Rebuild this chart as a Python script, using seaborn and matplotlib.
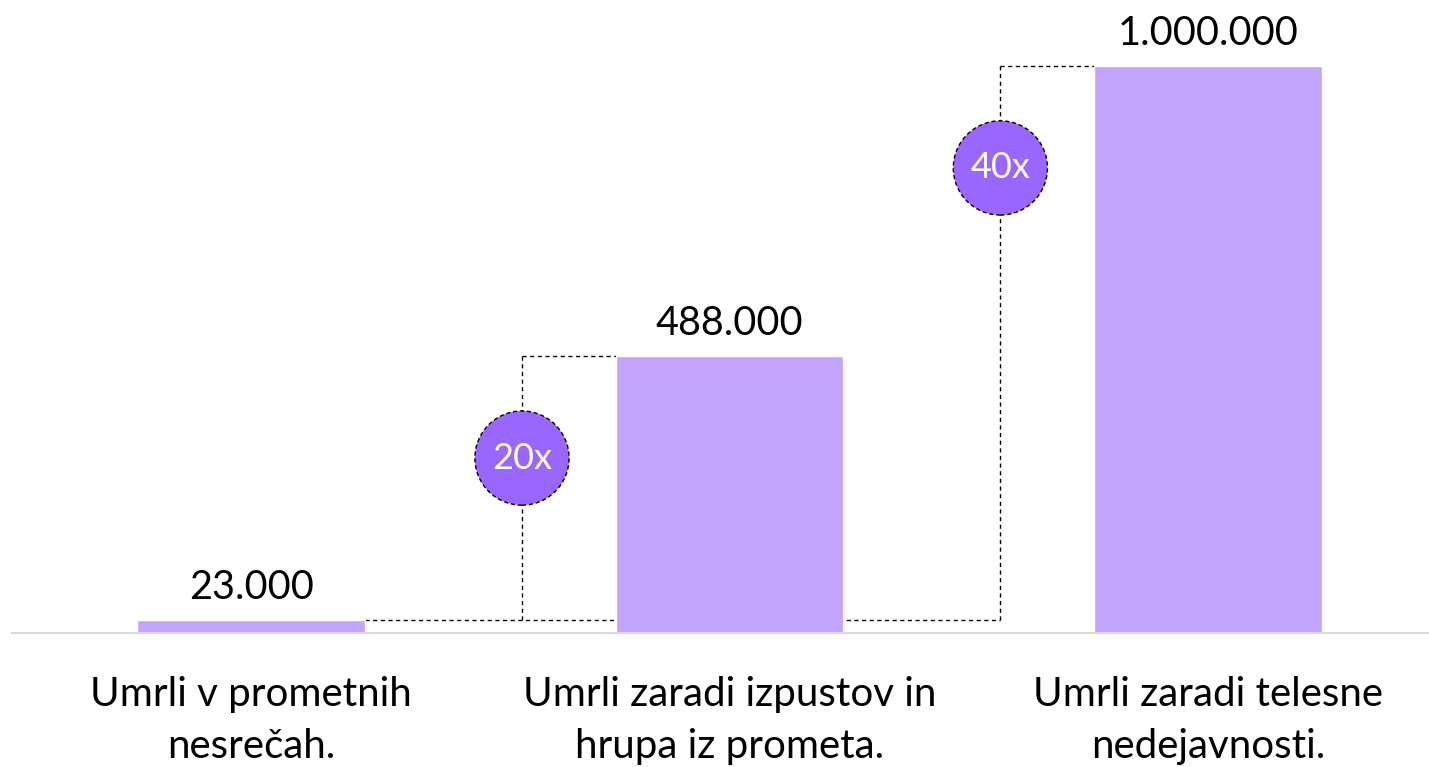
import matplotlib
matplotlib.use('Agg')
import matplotlib.pyplot as plt
import seaborn as sns
import pandas as pd

categories = ['Umrli v prometnih\nnesrečah.', 'Umrli zaradi izpustov in\nhrupa iz prometa.', 'Umrli zaradi telesne\nnedejavnosti.']
values = [23000, 488000, 1000000]
value_labels = ['23.000', '488.000', '1.000.000']
multipliers = ['20x', '40x']

BAR_COLOR = '#C3A5FF'
BUBBLE_COLOR = '#9966FF'
BAR_WIDTH = 0.476
LINK_OFFSET = 0.434          # connector distance left of the target bar centre
BUBBLE_POS = [0.614, 0.816]  # bubble height as a share of the connector span

sns.set_style('white')
plt.rcParams['font.family'] = ['Lato', 'DejaVu Sans']

df = pd.DataFrame({'category': categories, 'value': values})

fig = plt.figure(figsize=(14.29, 7.67), dpi=100)
ax = fig.add_axes([12 / 1429, 134 / 767, 1417 / 1429, 633 / 767])
sns.barplot(data=df, x='category', y='value', color=BAR_COLOR, width=BAR_WIDTH,
            saturation=1, ax=ax, zorder=2)

ax.set_xlim(-0.5, 2.462)
ax.set_ylim(0, max(values) * 1.1164)
ax.set_xlabel('')
ax.set_ylabel('')
ax.set_yticks([])
for side in ['left', 'right', 'top']:
    ax.spines[side].set_visible(False)
ax.spines['bottom'].set_color('#D9D9D9')
ax.spines['bottom'].set_linewidth(1.5)
ax.tick_params(axis='x', length=0, pad=31, labelsize=29, labelcolor='black')
for lab in ax.get_xticklabels():
    lab.set_linespacing(1.5)

# value labels above the bars
for i, (v, txt) in enumerate(zip(values, value_labels)):
    ax.annotate(txt, (i, v), xytext=(0, 10), textcoords='offset points',
                ha='center', va='bottom', fontsize=28.5, color='black')

# dashed connectors from the first bar to the others, with multiplier bubbles
dash = dict(color='black', lw=1, linestyle=(0, (3, 2.5)), zorder=1)
base = values[0]
ax.plot([BAR_WIDTH / 2, 2 - LINK_OFFSET], [base, base], **dash)
for k, target in enumerate([1, 2]):
    xc = target - LINK_OFFSET
    top = values[target]
    ax.plot([xc, xc], [base, top], **dash)
    ax.plot([xc, target - BAR_WIDTH / 2], [top, top], **dash)
    yb = base + (top - base) * BUBBLE_POS[k]
    ax.scatter([xc], [yb], s=4600, color=BUBBLE_COLOR, edgecolors='black',
               linewidths=1, linestyle=(0, (3, 2)), zorder=3)
    ax.text(xc, yb, multipliers[k], ha='center', va='center', fontsize=26,
            color='white', zorder=4)

fig.savefig('out.png', dpi=100)
